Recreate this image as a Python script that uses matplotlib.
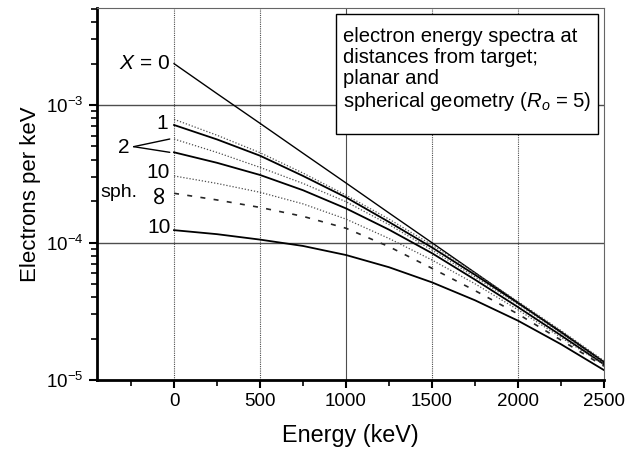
import numpy as np
import matplotlib
matplotlib.use('Agg')
import matplotlib.pyplot as plt
from matplotlib.ticker import LogLocator, FixedLocator, NullFormatter

plt.rcParams['font.family'] = ['Liberation Sans', 'DejaVu Sans']
plt.rcParams['mathtext.fontset'] = 'custom'
plt.rcParams['mathtext.rm'] = 'Liberation Sans'
plt.rcParams['mathtext.it'] = 'Liberation Sans:italic'

# energies (keV) at which the spectra were read
energy = [0, 250, 500, 750, 1000, 1250, 1500, 1750, 2000, 2250, 2500]

# electrons per keV
x0_src = [2.0e-3, 1.21e-3, 7.36e-4, 4.46e-4, 2.71e-4, 1.64e-4, 9.96e-5, 6.04e-5, 3.66e-5, 2.22e-5, 1.35e-5]
plan_1 = [7.16e-4, 5.62e-4, 4.28e-4, 3.05e-4, 2.13e-4, 1.41e-4, 9.2e-5, 5.82e-5, 3.63e-5, 2.24e-5, 1.35e-5]
plan_2 = [4.53e-4, 3.80e-4, 3.10e-4, 2.40e-4, 1.77e-4, 1.24e-4, 8.36e-5, 5.37e-5, 3.39e-5, 2.11e-5, 1.30e-5]
plan_10 = [1.23e-4, 1.15e-4, 1.05e-4, 9.44e-5, 8.11e-5, 6.61e-5, 5.13e-5, 3.80e-5, 2.70e-5, 1.82e-5, 1.18e-5]
sph_1 = [7.87e-4, 6.03e-4, 4.50e-4, 3.20e-4, 2.21e-4, 1.48e-4, 9.6e-5, 6.03e-5, 3.72e-5, 2.29e-5, 1.38e-5]
sph_2 = [5.66e-4, 4.52e-4, 3.52e-4, 2.69e-4, 1.98e-4, 1.35e-4, 8.81e-5, 5.62e-5, 3.55e-5, 2.19e-5, 1.33e-5]
sph_10 = [3.05e-4, 2.69e-4, 2.32e-4, 1.91e-4, 1.48e-4, 1.07e-4, 7.46e-5, 5.01e-5, 3.24e-5, 2.04e-5, 1.29e-5]
sph_inf = [2.28e-4, 2.04e-4, 1.80e-4, 1.55e-4, 1.27e-4, 9.33e-5, 6.49e-5, 4.47e-5, 3.02e-5, 1.95e-5, 1.26e-5]

fig = plt.figure(figsize=(6.38, 4.53), dpi=100)
ax = fig.add_axes([97/638, 1-380/453, 507/638, 372/453])

ax.set_yscale('log')
ax.set_xlim(-448, 2500)
ax.set_ylim(1e-5, 5.08e-3)

# grid
for e in [0, 500, 1500, 2000]:
    ax.axvline(e, color='0.3', lw=0.8, ls=(0, (1, 1)), zorder=1)
ax.axvline(1000, color='0.3', lw=0.8, zorder=1)
for v in [1e-3, 1e-4]:
    ax.axhline(v, color='0.3', lw=1.0, zorder=1)

# planar
ax.plot(energy, x0_src, color='k', lw=1.0, zorder=3)
ax.plot(energy, plan_1, color='k', lw=1.3, zorder=3)
ax.plot(energy, plan_2, color='k', lw=1.3, zorder=3)
ax.plot(energy, plan_10, color='k', lw=1.3, zorder=3)
# spherical
ax.plot(energy, sph_1, color='0.3', lw=0.9, ls=(0, (1, 1.5)), zorder=3)
ax.plot(energy, sph_2, color='0.3', lw=0.9, ls=(0, (1, 1.5)), zorder=3)
ax.plot(energy, sph_10, color='0.3', lw=0.9, ls=(0, (1, 1.5)), zorder=3)
ax.plot(energy, sph_inf, color='0.15', lw=1.2, ls=(0, (3, 5)), zorder=3)

fs = 15
ax.text(-23, x0_src[0], '$X$ = 0', ha='right', va='center', fontsize=fs)
ax.text(-70, 7.4e-4, '1', ha='center', va='center', fontsize=fs)
ax.text(-290, 4.95e-4, '2', ha='center', va='center', fontsize=fs)
for y_end in [sph_2[0], plan_2[0]]:
    ax.annotate('', xy=(-25, y_end), xytext=(-235, 4.98e-4),
                arrowprops=dict(arrowstyle='-', lw=1.0, shrinkA=0, shrinkB=0))
ax.text(-93, 3.22e-4, '10', ha='center', va='center', fontsize=fs)
ax.text(-320, 2.30e-4, 'sph.', ha='center', va='center', fontsize=14)
ax.text(-93, 2.30e-4, '\u221e', ha='center', va='center', fontsize=19, rotation=90,
        family='DejaVu Sans')
ax.text(-87, 1.28e-4, '10', ha='center', va='center', fontsize=fs)

# info box
box = plt.Rectangle((0.471, 0.661), 0.517, 0.323, transform=ax.transAxes,
                    facecolor='white', edgecolor='k', lw=1.0, zorder=5)
ax.add_patch(box)
ax.text(0.485, 0.950, 'electron energy spectra at\ndistances from target;\nplanar and\n'
        'spherical geometry ($R_o$ = 5)', transform=ax.transAxes, ha='left', va='top',
        fontsize=14.6, linespacing=1.13, zorder=6)

# axes styling
for s in ['left', 'bottom']:
    ax.spines[s].set_linewidth(2.0)
for s in ['top', 'right']:
    ax.spines[s].set_linewidth(0.8)
    ax.spines[s].set_color('0.4')
ax.xaxis.set_major_locator(FixedLocator([0, 500, 1000, 1500, 2000, 2500]))
ax.xaxis.set_minor_locator(FixedLocator([-250, 250, 750, 1250, 1750, 2250]))
ax.yaxis.set_major_locator(LogLocator(base=10, numticks=10))
ax.yaxis.set_minor_locator(LogLocator(base=10, subs=np.arange(2, 10), numticks=20))
ax.yaxis.set_minor_formatter(NullFormatter())
ax.tick_params(which='major', direction='out', length=6, width=1.5, labelsize=13.5)
ax.tick_params(which='minor', direction='out', length=4, width=1.2)
ax.tick_params(axis='both', top=False, right=False)

ax.set_xlabel('Energy (keV)', fontsize=16.8, labelpad=10)
ax.set_ylabel('Electrons per keV', fontsize=16, labelpad=4)

fig.savefig('out.png', dpi=100)
